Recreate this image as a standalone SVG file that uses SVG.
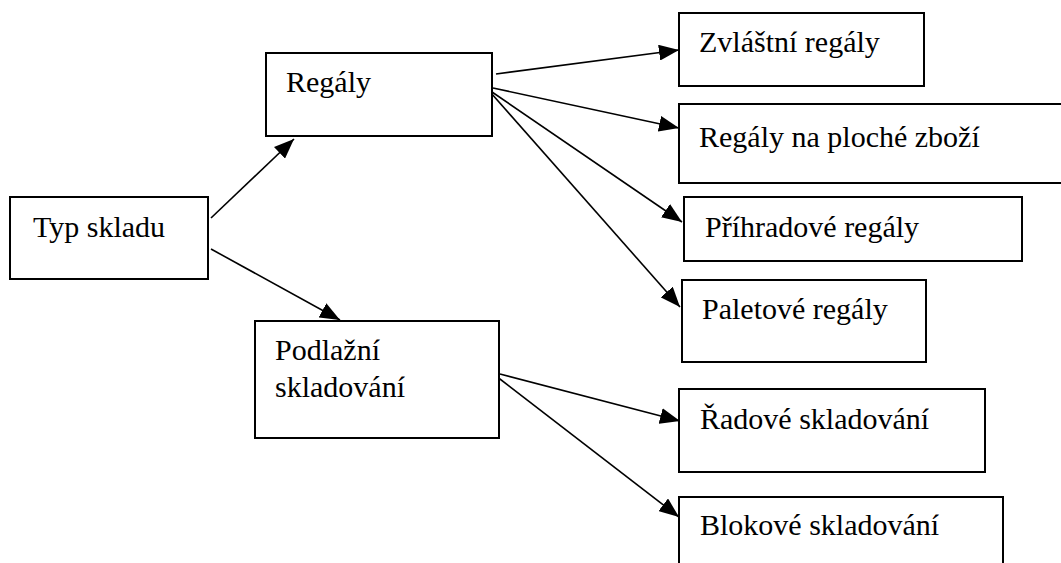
<svg xmlns="http://www.w3.org/2000/svg" width="1061" height="563" viewBox="0 0 1061 563">
<style>
.box{fill:#fff;stroke:#000;stroke-width:2}
.lbl{font-size:30px;fill:#000}
.con{stroke:#000;stroke-width:1.6;fill:none}
</style>
<defs>
<marker id="ah" markerUnits="userSpaceOnUse" markerWidth="20" markerHeight="16" refX="20" refY="8" orient="auto" viewBox="0 0 20 16">
<path d="M0,0 L20,8 L0,16 z" fill="#000"/>
</marker>
</defs>
<rect width="1061" height="563" fill="#fff"/>
<g id="connectors">
<line class="con" x1="211" y1="218" x2="294" y2="139" marker-end="url(#ah)"/>
<line class="con" x1="211" y1="249" x2="340" y2="320" marker-end="url(#ah)"/>
<line class="con" x1="496" y1="74" x2="679" y2="50" marker-end="url(#ah)"/>
<line class="con" x1="493" y1="88" x2="679" y2="128" marker-end="url(#ah)"/>
<line class="con" x1="492" y1="92" x2="682" y2="222" marker-end="url(#ah)"/>
<line class="con" x1="491" y1="93" x2="680" y2="307" marker-end="url(#ah)"/>
<line class="con" x1="500" y1="374" x2="680" y2="421" marker-end="url(#ah)"/>
<line class="con" x1="496" y1="376" x2="679" y2="517" marker-end="url(#ah)"/>
</g>
<g font-family="Liberation Serif, Times New Roman, DejaVu Serif, serif">
<g id="typ-skladu">
<rect class="box" x="10" y="197" width="198" height="82"/>
<text class="lbl" x="33" y="237">Typ skladu</text>
</g>
<g id="regaly">
<rect class="box" x="266" y="53" width="226" height="83"/>
<text class="lbl" x="286" y="92">Regály</text>
</g>
<g id="podlazni">
<rect class="box" x="255" y="321" width="244" height="117"/>
<text class="lbl" x="275" y="360">Podlažní</text>
<text class="lbl" x="275" y="397">skladování</text>
</g>
<g id="zvlastni">
<rect class="box" x="679" y="13" width="245" height="73"/>
<text class="lbl" x="699" y="52">Zvláštní regály</text>
</g>
<g id="ploche">
<rect class="box" x="679" y="104" width="390" height="79"/>
<text class="lbl" x="699" y="147">Regály na ploché zboží</text>
</g>
<g id="prihradove">
<rect class="box" x="684" y="197" width="338" height="64"/>
<text class="lbl" x="705" y="237">Příhradové regály</text>
</g>
<g id="paletove">
<rect class="box" x="682" y="280" width="244" height="82"/>
<text class="lbl" x="702" y="319">Paletové regály</text>
</g>
<g id="radove">
<rect class="box" x="679" y="389" width="306" height="83"/>
<text class="lbl" x="700" y="429">Řadové skladování</text>
</g>
<g id="blokove">
<rect class="box" x="679" y="497" width="324" height="80"/>
<text class="lbl" x="700" y="535">Blokové skladování</text>
</g>
</g>
</svg>
